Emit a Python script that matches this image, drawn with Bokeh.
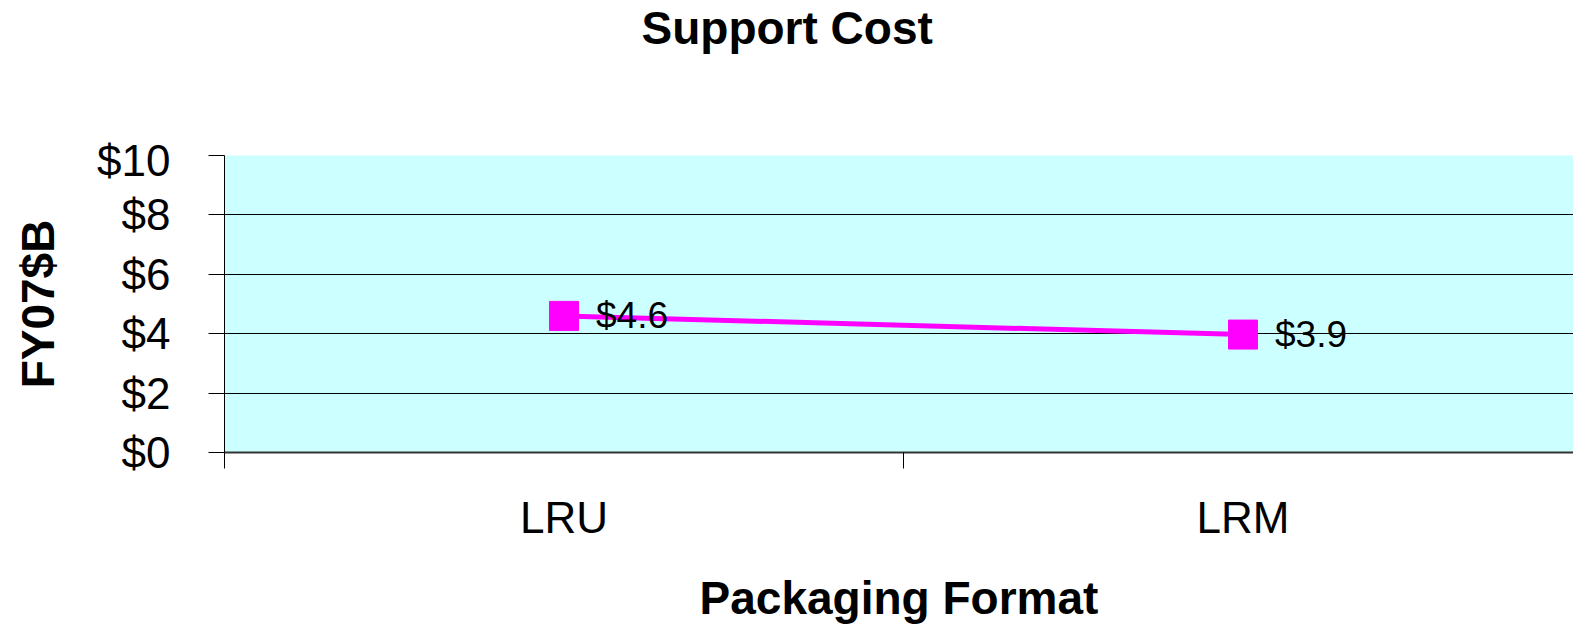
from bokeh.plotting import figure
from bokeh.layouts import column
from bokeh.models import FixedTicker, NumeralTickFormatter, LinearAxis, Range1d, ColumnDataSource, Grid
from bokeh.core.properties import value
from bokeh.embed import file_html
from bokeh.resources import INLINE

title_text = "Support Cost"
categories = ["LRU", "LRM"]
costs = [4.6, 3.97]
cost_labels = ["$4.6", "$3.9"]
y_ticks = [0, 2, 4, 6, 8, 10]

FONT = "Liberation Sans"
LEFT = 224
xs = [i + 0.5 for i in range(len(categories))]
dividers = [float(i) for i in range(len(categories) + 1)]
src = ColumnDataSource(dict(x=xs, y=costs, lab=cost_labels))

# ---- title strip (frame aligned with the chart frame: pixel units from frame left) ----
TITLE_H = 135
t = figure(width=1573, height=TITLE_H, output_backend="svg", toolbar_location=None,
           x_range=Range1d(0, 1573 - LEFT), y_range=Range1d(0, TITLE_H),
           x_axis_location=None, y_axis_location=None, title_location=None,
           min_border_left=LEFT, min_border_right=0, min_border_top=0, min_border_bottom=0)
t.grid.visible = False
t.outline_line_color = None
t.background_fill_color = "white"
t.border_fill_color = "white"
t.text(x=[641 - LEFT], y=[TITLE_H - 27], text=[title_text], text_font=value(FONT), text_font_size="46px",
       text_font_style="bold", text_color="black", text_baseline="alphabetic", text_align="left")

# ---- main chart ----
p = figure(width=1573, height=626 - TITLE_H, output_backend="svg", toolbar_location=None,
           x_range=Range1d(0, 1.9867), y_range=Range1d(0, 10),
           x_axis_location=None, y_axis_location=None,
           min_border_left=LEFT, min_border_right=0, min_border_top=20, min_border_bottom=0)

p.background_fill_color = "#CCFFFF"
p.border_fill_color = "white"
p.outline_line_color = None

# y axis
yax = LinearAxis(ticker=FixedTicker(ticks=y_ticks), formatter=NumeralTickFormatter(format="$0"))
yax.major_tick_out = 16
yax.major_tick_in = 0
yax.minor_tick_out = 0
yax.minor_tick_in = 0
yax.major_label_standoff = 38
yax.major_label_text_font = FONT
yax.major_label_text_font_size = "44px"
yax.major_label_text_color = "black"
yax.axis_line_color = "black"
yax.major_tick_line_color = "black"
yax.axis_label = "FY07$B"
yax.axis_label_text_color = "black"
yax.axis_label_text_font = FONT
yax.axis_label_text_font_size = "46px"
yax.axis_label_text_font_style = "bold"
yax.axis_label_standoff = 30
p.add_layout(yax, "left")

# x axis: labels at category centres, divider ticks as minor ticks
xax = LinearAxis(ticker=FixedTicker(ticks=xs, minor_ticks=dividers),
                 major_label_overrides={x: c for x, c in zip(xs, categories)})
xax.axis_line_color = "#333333"
xax.axis_line_width = 2
xax.major_tick_line_color = None
xax.major_tick_out = 0
xax.major_tick_in = 0
xax.minor_tick_line_color = "black"
xax.minor_tick_line_width = 1
xax.minor_tick_out = 16
xax.minor_tick_in = 0
xax.major_label_standoff = 24
xax.major_label_text_font = FONT
xax.major_label_text_font_size = "44px"
xax.major_label_text_color = "black"
xax.axis_label = "Packaging Format"
xax.axis_label_text_color = "black"
xax.axis_label_text_font = FONT
xax.axis_label_text_font_size = "46px"
xax.axis_label_text_font_style = "bold"
xax.axis_label_standoff = 27
p.add_layout(xax, "below")

p.xgrid.visible = False
p.ygrid.visible = False
p.add_layout(Grid(dimension=1, ticker=FixedTicker(ticks=y_ticks), grid_line_color="black", grid_line_width=1))

p.line("x", "y", source=src, line_color="#FF00FF", line_width=5)
p.scatter("x", "y", source=src, marker="square", size=29, fill_color="#FF00FF", line_color="#FF00FF")
p.text("x", "y", text="lab", source=src, x_offset=32, text_baseline="middle", text_align="left",
       text_font=value(FONT), text_font_size="37px", text_color="black")

layout = column(t, p, spacing=0)
open("out.html", "w").write(file_html(layout, INLINE))
